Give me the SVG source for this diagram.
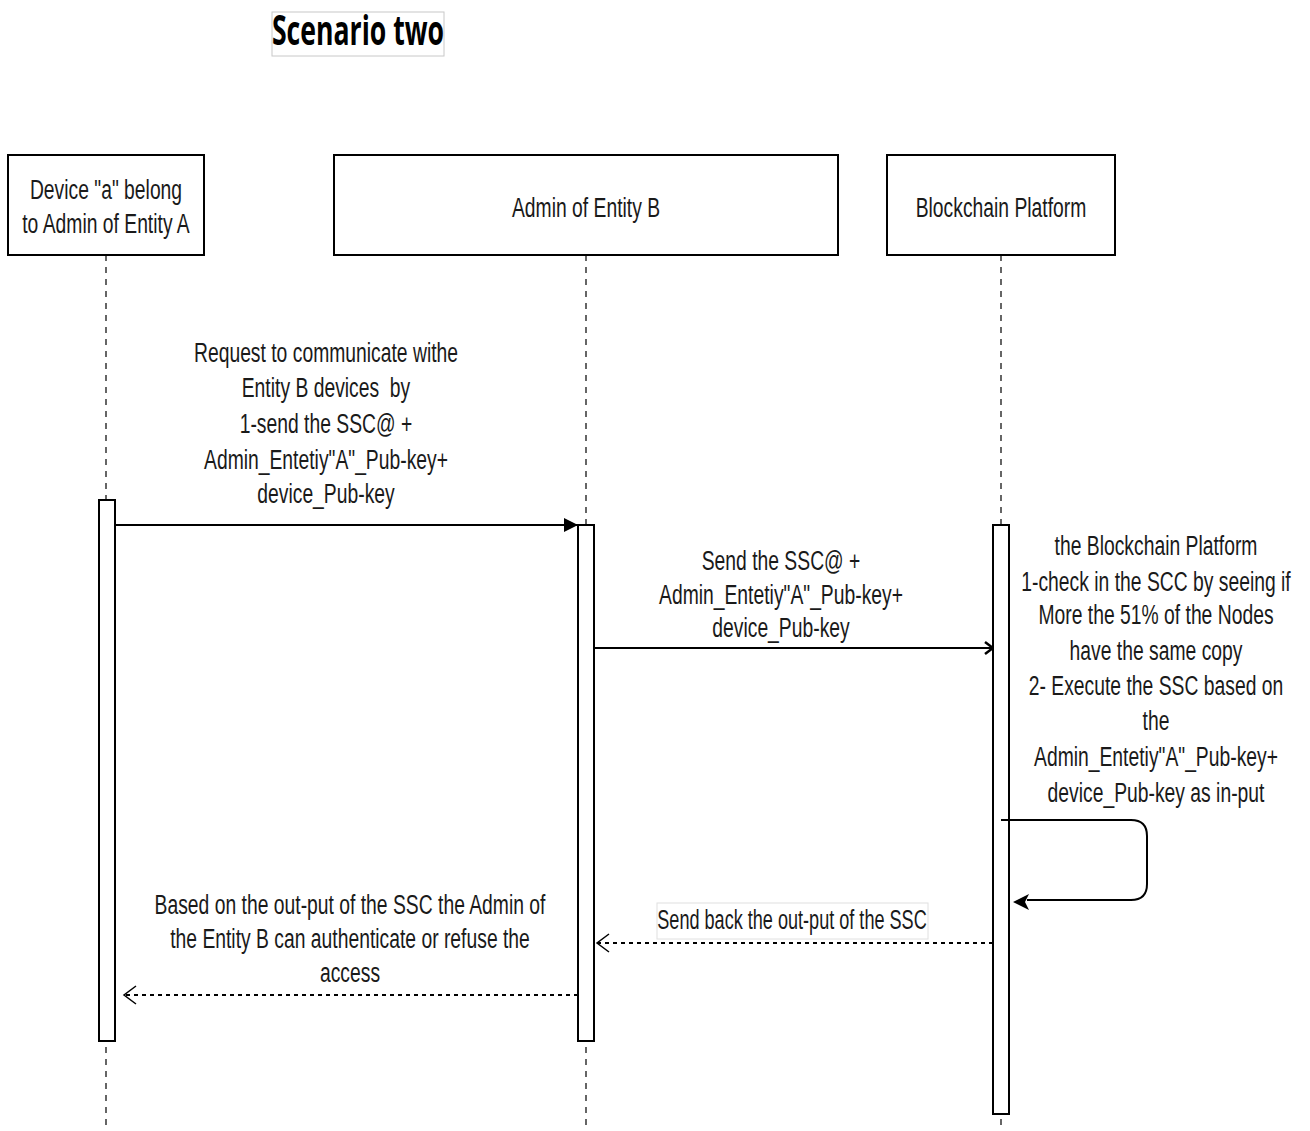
<svg xmlns="http://www.w3.org/2000/svg" width="1310" height="1131" viewBox="0 0 1310 1131">
<style>
.t{font-family:"Liberation Sans",Arial,sans-serif;font-size:28px;fill:#1a1a1a;text-anchor:middle}
.box{fill:#fff;stroke:#000;stroke-width:2}
.act{fill:#fff;stroke:#000;stroke-width:2}
.life{stroke:#000;stroke-width:1.2;stroke-dasharray:6 6;fill:none}
.msg{stroke:#000;stroke-width:2;fill:none}
.ret{stroke:#000;stroke-width:2;fill:none;stroke-dasharray:4 4}
</style>
<defs>
<marker id="block" viewBox="0 0 14 14" refX="14" refY="7" markerWidth="14" markerHeight="14" markerUnits="userSpaceOnUse" orient="auto"><path d="M0,0 L14,7 L0,14 Z" fill="#000"/></marker>
<marker id="small" viewBox="0 0 10 14" refX="9" refY="7" markerWidth="10" markerHeight="14" markerUnits="userSpaceOnUse" orient="auto"><path d="M1,1 L9,7 L1,13" fill="none" stroke="#000" stroke-width="2.5"/></marker>
</defs>

<g id="title">
<rect x="272" y="12" width="172" height="44" fill="#fff" stroke="#c8c8c8" stroke-width="1"/>
<text transform="matrix(0.65,0,0,1,358,45)" x="0" y="0" style="font-family:'Open Sans','Noto Sans',sans-serif;font-weight:bold;font-size:41px;text-anchor:middle;fill:#000">Scenario two</text>
</g>

<g id="lifelines">
<line class="life" x1="106" y1="255" x2="106" y2="1131"/>
<line class="life" x1="586" y1="255" x2="586" y2="1131"/>
<line class="life" x1="1001" y1="255" x2="1001" y2="1131"/>
</g>

<g id="node-device-a">
<rect class="box" x="8" y="155" width="196" height="100"/>
<text class="t" transform="matrix(0.69,0,0,1,106,0)"><tspan x="0" y="199">Device "a" belong</tspan><tspan x="0" y="233">to Admin of Entity A</tspan></text>
</g>
<g id="node-admin-b">
<rect class="box" x="334" y="155" width="504" height="100"/>
<text class="t" transform="matrix(0.69,0,0,1,586,0)"><tspan x="0" y="217">Admin of Entity B</tspan></text>
</g>
<g id="node-blockchain">
<rect class="box" x="887" y="155" width="228" height="100"/>
<text class="t" transform="matrix(0.69,0,0,1,1001,0)"><tspan x="0" y="217">Blockchain Platform</tspan></text>
</g>

<g id="activations">
<rect class="act" x="99" y="500" width="16" height="541"/>
<rect class="act" x="578" y="525" width="16" height="516"/>
<rect class="act" x="993" y="525" width="16" height="589"/>
</g>

<g id="connectors">
<line class="msg" x1="115" y1="525" x2="578" y2="525" marker-end="url(#block)"/>
<line class="msg" x1="594" y1="648" x2="993" y2="648" marker-end="url(#small)"/>
<path class="msg" d="M1001,820 L1131,820 Q1147,820 1147,836 L1147,884 Q1147,900 1131,900 L1027,900"/>
<path d="M1013,902 L1029,894 L1025,902 L1029,910 Z" fill="#000"/>
<line class="ret" x1="993" y1="943" x2="597" y2="943"/>
<path d="M609,934 L597,943 L609,952" fill="none" stroke="#000" stroke-width="1.5"/>
<line class="ret" x1="578" y1="995" x2="124" y2="995"/>
<path d="M136,986 L124,995 L136,1004" fill="none" stroke="#000" stroke-width="1.5"/>
</g>

<g id="labels">
<text class="t" transform="matrix(0.69,0,0,1,326,0)"><tspan x="0" y="362">Request to communicate withe</tspan><tspan x="0" y="397">Entity B devices &#160;by</tspan><tspan x="0" y="433">1-send the SSC@ +</tspan><tspan x="0" y="469">Admin_Entetiy"A"_Pub-key+</tspan><tspan x="0" y="503">device_Pub-key</tspan></text>
<text class="t" transform="matrix(0.69,0,0,1,781,0)"><tspan x="0" y="570">Send the SSC@ +</tspan><tspan x="0" y="604">Admin_Entetiy"A"_Pub-key+</tspan><tspan x="0" y="637">device_Pub-key</tspan></text>
<text class="t" transform="matrix(0.69,0,0,1,1156,0)"><tspan x="0" y="555">the Blockchain Platform</tspan><tspan x="0" y="591">1-check in the SCC by seeing if</tspan><tspan x="0" y="624">More the 51% of the Nodes</tspan><tspan x="0" y="660">have the same copy</tspan><tspan x="0" y="695">2- Execute the SSC based on</tspan><tspan x="0" y="730">the</tspan><tspan x="0" y="766">Admin_Entetiy"A"_Pub-key+</tspan><tspan x="0" y="802">device_Pub-key as in-put</tspan></text>
<rect x="657" y="903" width="271" height="36" fill="#fff" stroke="#e0e0e0" stroke-width="1"/>
<text class="t" transform="matrix(0.646,0,0,1,792,0)"><tspan x="0" y="929">Send back the out-put of the SSC</tspan></text>
<text class="t" transform="matrix(0.69,0,0,1,350,0)"><tspan x="0" y="914">Based on the out-put of the SSC the Admin of</tspan><tspan x="0" y="948">the Entity B can authenticate or refuse the</tspan><tspan x="0" y="982">access</tspan></text>
</g>
</svg>
